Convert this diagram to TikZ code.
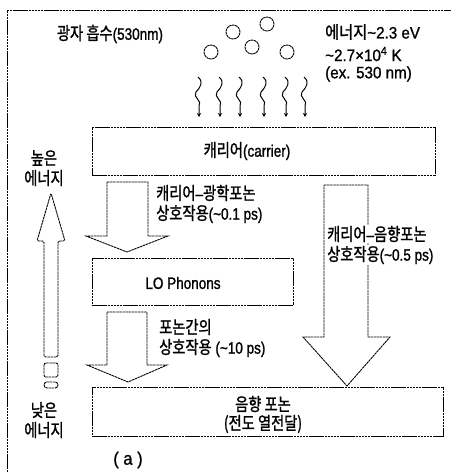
\documentclass[tikz,border=0pt]{standalone}
\usepackage{fontspec}
\setmainfont{Liberation Sans}[FakeStretch=0.82, FakeBold=1.2]
\newfontfamily\kr{Noto Sans CJK KR}[FakeStretch=0.8, Scale=1.08, FakeBold=1.2]
\newfontfamily\krw{Noto Sans CJK KR}[FakeStretch=0.88, Scale=1.05, FakeBold=1.2]
\newfontfamily\latw{Liberation Sans}[FakeStretch=0.92, FakeBold=1.0]
\newcommand\K[1]{{\kr #1}}
\newcommand\KW[1]{{\krw #1}}
\newcommand\tld{\char"007E\relax}
\usetikzlibrary{arrows.meta}
\begin{document}
\begin{tikzpicture}[x=1pt,y=-1pt,
  sk/.style={line width=0.9pt, dash pattern=on 2.5pt off 0.6pt},
  boxnode/.style={sk, draw, rectangle, inner sep=0pt},
  txt/.style={inner sep=0pt, font=\fontsize{16.5}{19}\selectfont},
  txtw/.style={inner sep=0pt, font=\fontsize{16.5}{19}\selectfont\latw},
  photon/.style={circle, draw, sk, minimum size=14pt, inner sep=0pt},
  wavy/.style={line width=1pt, -{Stealth[length=4pt,width=4pt]}},
  blockarrow/.style={sk, draw, line join=miter}
]
\useasboundingbox (0,0) rectangle (451,472);
% frame (top and left only)
\draw[sk] (7,472) -- (7,10) -- (451,10);

% title texts
\node[txt] (title) at (110,34) {\K{광자 흡수}(530nm)};
\node[txtw, anchor=west] (e1) at (325,32) {\KW{에너지}\tld2.3 eV};
\node[txtw, anchor=west] (e2) at (325,54) {\tld2.7×10\textsuperscript{4} K};
\node[txtw, anchor=west] (e3) at (325,74) {(ex. 530 nm)};

% photons
\node[photon] (c1) at (233,32) {};
\node[photon] (c2) at (267,24) {};
\node[photon] (c3) at (252,47) {};
\node[photon] (c4) at (211,52) {};
\node[photon] (c5) at (287,52) {};

% boxes
\node[boxnode, minimum width=343pt, minimum height=48pt] (carrier) at (263.5,151) {};
\node[txt] (carriertxt) at (247,151) {\K{캐리어}(carrier)};
\node[boxnode, minimum width=201pt, minimum height=47pt] (lo) at (192.5,281.5) {};
\node[txt] (lotxt) at (183,283) {LO Phonons};
\node[boxnode, minimum width=351pt, minimum height=49pt] (ac) at (267.5,411.5) {};
\node[txt] (actxt1) at (263,404) {\K{음향 포논}};
\node[txt] (actxt2) at (263,424) {\K{(전도 열전달)}};

% wavy photon arrows
\foreach \x in {198,219,239,263,285,304}{
  \draw[wavy] (\x,77) .. controls (\x+6,82) and (\x+2,88) .. (\x-2,92)
     .. controls (\x-6,97) and (\x+5,101) .. (\x+1,106) -- (\x+1,117);
}

% block arrow carrier -> LO
\draw[blockarrow] (107,182) -- (148,182) -- (148,236) -- (168,236) -- (127,252)
   -- (86,236) -- (107,236) -- cycle;
% block arrow LO -> acoustic
\draw[blockarrow] (107,312) -- (147,312) -- (147,365) -- (167,365) -- (128,382)
   -- (87,365) -- (107,365) -- cycle;
% block arrow carrier -> acoustic
\draw[blockarrow] (324,185) -- (368,185) -- (368,337) -- (390,337) -- (347,386)
   -- (303,337) -- (324,337) -- cycle;

% left energy arrow (upward)
\draw[blockarrow, rounded corners=1.5pt] (51,193) -- (65,241) -- (58,241) -- (58,357)
   -- (44,357) -- (44,241) -- (37,241) -- cycle;
\draw[sk, rounded corners=2pt] (44,363) rectangle (58,377);
\draw[sk, rounded corners=3pt] (44,382) rectangle (58,388);

% labels
\node[txt, anchor=west] (l1a) at (156,193) {\K{캐리어}–\K{광학포논}};
\node[txt, anchor=west] (l1b) at (156,214) {\K{상호작용}(\tld0.1 ps)};
\node[txt, anchor=west, fill=white, inner sep=1pt] (l2a) at (326,234) {\K{캐리어}–\K{음향포논}};
\node[txt, anchor=west, fill=white, inner sep=1pt] (l2b) at (326,255) {\K{상호작용}(\tld0.5 ps)};
\node[txt, anchor=west] (l3a) at (159,327) {\K{포논간의}};
\node[txt, anchor=west] (l3b) at (159,348) {\K{상호작용} (\tld10 ps)};

\node[txt] (hi1) at (44,158) {\K{높은}};
\node[txt] (hi2) at (44,178) {\K{에너지}};
\node[txt] (lo1) at (44,410) {\K{낮은}};
\node[txt] (lo2) at (44,430) {\K{에너지}};

\node[inner sep=0pt, font=\fontsize{18}{20}\selectfont\latw] (cap) at (128,460) {( a )};
\end{tikzpicture}
\end{document}
